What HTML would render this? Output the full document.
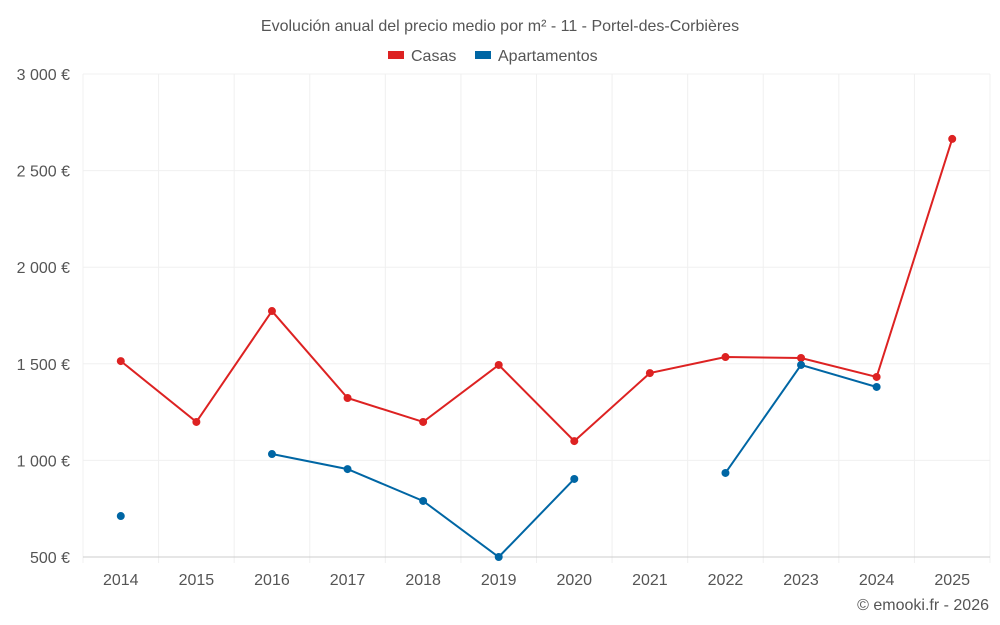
<!DOCTYPE html>
<html><head><meta charset="utf-8"><style>
html,body{margin:0;padding:0;background:#fff;}
svg{display:block;font-family:"Liberation Sans",sans-serif;}
</style></head><body>
<svg id="chart" width="1000" height="625">
<text x="500" y="31" text-anchor="middle" font-size="16" fill="#555">Evolución anual del precio medio por m² - 11 - Portel-des-Corbières</text>
<g>
<g><rect x="388" y="51" width="16" height="8" fill="#dd2222"/><text x="411" y="61" font-size="16" fill="#555">Casas</text></g>
<g><rect x="475" y="51" width="16" height="8" fill="#0066a4"/><text x="498" y="61" font-size="16" fill="#555">Apartamentos</text></g>
</g>
<g id="grid"></g><g id="axes"></g><g id="series"></g>
<text x="989" y="610" text-anchor="end" font-size="16" fill="#555">© emooki.fr - 2026</text>
</svg>
<script>
const years=[2014,2015,2016,2017,2018,2019,2020,2021,2022,2023,2024,2025];
const casas=[1514,1199,1773,1323,1199,1494,1100,1452,1535,1530,1432,2664];
const apartamentos=[712,null,1033,955,790,500,904,null,935,1494,1380,null];
const yTicks=[500,1000,1500,2000,2500,3000];
const yTickLabels=["500 €","1 000 €","1 500 €","2 000 €","2 500 €","3 000 €"];
const L=83,R=990,T=74,B=557,NS="http://www.w3.org/2000/svg";
const step=(R-L)/years.length;
function xs(i){return L+step*(i+0.5);}
function ys(v){return B-(v-500)/2500*(B-T);}
function mk(t,a,p){const e=document.createElementNS(NS,t);for(const k in a)e.setAttribute(k,a[k]);p.appendChild(e);return e;}
const g=document.getElementById('grid'),ax=document.getElementById('axes'),s=document.getElementById('series');
yTicks.forEach((v,i)=>{
const l=mk('line',{x1:L,x2:R,y1:ys(v),y2:ys(v),stroke:'#f0f0f0'},g);


const t=mk('text',{x:70,y:ys(v)+6,'text-anchor':'end','font-size':16,fill:'#555'},ax);
t.textContent=yTickLabels[i];


});
for(let i=0;i<=years.length;i++){
const l=mk('line',{x1:L+step*i,x2:L+step*i,y1:T,y2:B+6,stroke:'#f0f0f0'},g);


}
years.forEach((y,i)=>{
const t=mk('text',{x:xs(i),y:585,'text-anchor':'middle','font-size':16,fill:'#555'},ax);
t.textContent=y;


});
const base=mk('line',{x1:L,x2:R,y1:B,y2:B,stroke:'#ccc'},ax);


function draw(data,color,name){
let seg=[];const segs=[];
data.forEach((v,i)=>{if(v==null){if(seg.length)segs.push(seg);seg=[];}else seg.push([xs(i),ys(v)]);});
if(seg.length)segs.push(seg);
segs.forEach(sg=>{if(sg.length>1){const p=mk('polyline',{points:sg.map(q=>q.join(',')).join(' '),fill:'none',stroke:color,'stroke-width':2},s);

}});
data.forEach((v,i)=>{if(v==null)return;const c=mk('circle',{cx:xs(i),cy:ys(v),r:4,fill:color},s);

});
}
draw(casas,'#dd2222','casas');
draw(apartamentos,'#0066a4','apartamentos');
</script>
</body></html>
